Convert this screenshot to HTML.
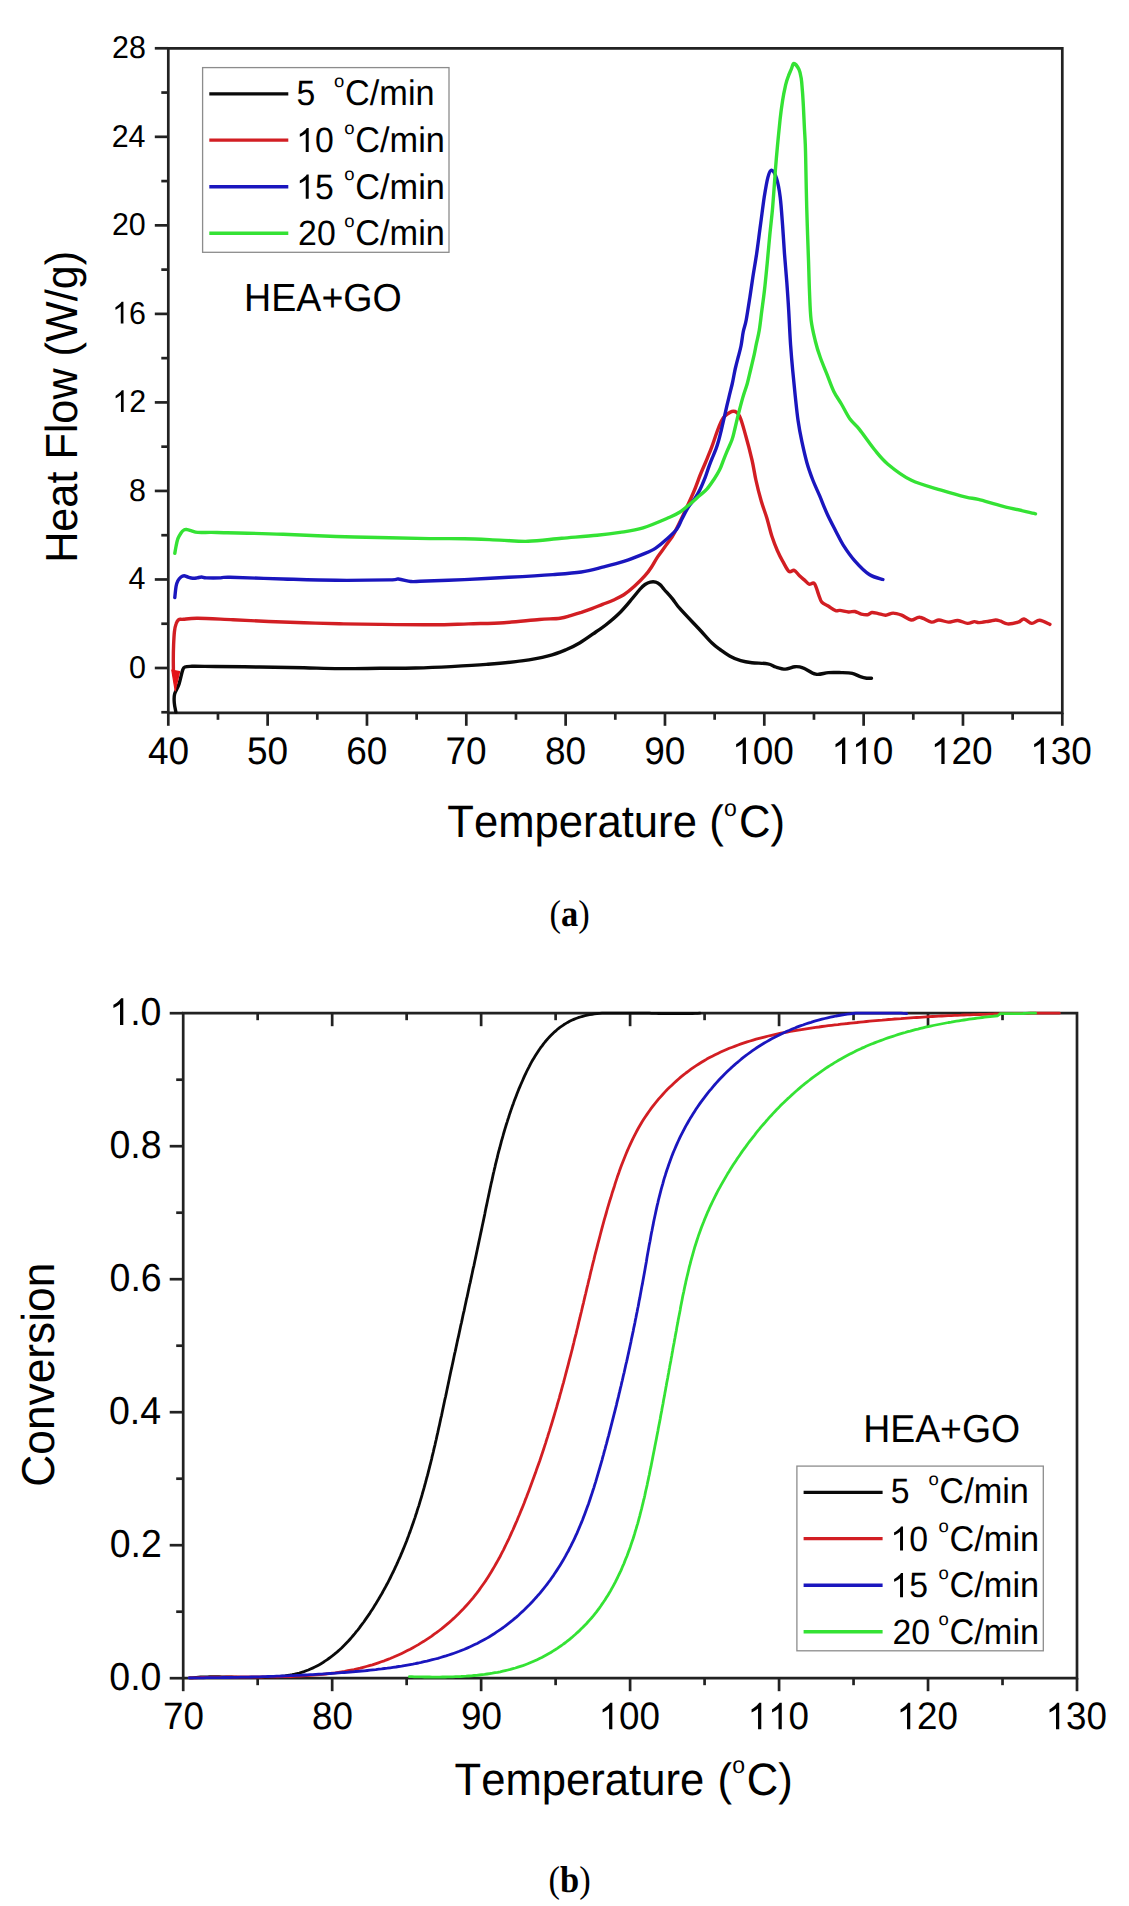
<!DOCTYPE html>
<html><head><meta charset="utf-8"><style>
html,body{margin:0;padding:0;background:#fff;overflow:hidden}
svg{display:block} text{text-rendering:geometricPrecision;font-kerning:none;font-feature-settings:"kern" 0}
</style></head><body>
<svg width="1129" height="1906" viewBox="0 0 1129 1906">
<rect width="1129" height="1906" fill="#fff"/>
<path d="M168.3,712.8 L168.3,48.3 L1062.3,48.3 L1062.3,712.8 Z" fill="none" stroke="#222222" stroke-width="2.7" stroke-linejoin="miter"/>
<line x1="161.30" y1="712.26" x2="168.30" y2="712.26" stroke="#222222" stroke-width="2.7" stroke-linecap="butt"/>
<line x1="154.80" y1="668.00" x2="168.30" y2="668.00" stroke="#222222" stroke-width="2.7" stroke-linecap="butt"/>
<line x1="161.30" y1="623.74" x2="168.30" y2="623.74" stroke="#222222" stroke-width="2.7" stroke-linecap="butt"/>
<line x1="154.80" y1="579.47" x2="168.30" y2="579.47" stroke="#222222" stroke-width="2.7" stroke-linecap="butt"/>
<line x1="161.30" y1="535.21" x2="168.30" y2="535.21" stroke="#222222" stroke-width="2.7" stroke-linecap="butt"/>
<line x1="154.80" y1="490.94" x2="168.30" y2="490.94" stroke="#222222" stroke-width="2.7" stroke-linecap="butt"/>
<line x1="161.30" y1="446.68" x2="168.30" y2="446.68" stroke="#222222" stroke-width="2.7" stroke-linecap="butt"/>
<line x1="154.80" y1="402.41" x2="168.30" y2="402.41" stroke="#222222" stroke-width="2.7" stroke-linecap="butt"/>
<line x1="161.30" y1="358.15" x2="168.30" y2="358.15" stroke="#222222" stroke-width="2.7" stroke-linecap="butt"/>
<line x1="154.80" y1="313.89" x2="168.30" y2="313.89" stroke="#222222" stroke-width="2.7" stroke-linecap="butt"/>
<line x1="161.30" y1="269.62" x2="168.30" y2="269.62" stroke="#222222" stroke-width="2.7" stroke-linecap="butt"/>
<line x1="154.80" y1="225.36" x2="168.30" y2="225.36" stroke="#222222" stroke-width="2.7" stroke-linecap="butt"/>
<line x1="161.30" y1="181.09" x2="168.30" y2="181.09" stroke="#222222" stroke-width="2.7" stroke-linecap="butt"/>
<line x1="154.80" y1="136.83" x2="168.30" y2="136.83" stroke="#222222" stroke-width="2.7" stroke-linecap="butt"/>
<line x1="161.30" y1="92.56" x2="168.30" y2="92.56" stroke="#222222" stroke-width="2.7" stroke-linecap="butt"/>
<line x1="154.80" y1="48.30" x2="168.30" y2="48.30" stroke="#222222" stroke-width="2.7" stroke-linecap="butt"/>
<line x1="168.30" y1="712.80" x2="168.30" y2="725.80" stroke="#222222" stroke-width="2.7" stroke-linecap="butt"/>
<line x1="217.97" y1="712.80" x2="217.97" y2="719.80" stroke="#222222" stroke-width="2.7" stroke-linecap="butt"/>
<line x1="267.63" y1="712.80" x2="267.63" y2="725.80" stroke="#222222" stroke-width="2.7" stroke-linecap="butt"/>
<line x1="317.30" y1="712.80" x2="317.30" y2="719.80" stroke="#222222" stroke-width="2.7" stroke-linecap="butt"/>
<line x1="366.97" y1="712.80" x2="366.97" y2="725.80" stroke="#222222" stroke-width="2.7" stroke-linecap="butt"/>
<line x1="416.63" y1="712.80" x2="416.63" y2="719.80" stroke="#222222" stroke-width="2.7" stroke-linecap="butt"/>
<line x1="466.30" y1="712.80" x2="466.30" y2="725.80" stroke="#222222" stroke-width="2.7" stroke-linecap="butt"/>
<line x1="515.97" y1="712.80" x2="515.97" y2="719.80" stroke="#222222" stroke-width="2.7" stroke-linecap="butt"/>
<line x1="565.63" y1="712.80" x2="565.63" y2="725.80" stroke="#222222" stroke-width="2.7" stroke-linecap="butt"/>
<line x1="615.30" y1="712.80" x2="615.30" y2="719.80" stroke="#222222" stroke-width="2.7" stroke-linecap="butt"/>
<line x1="664.97" y1="712.80" x2="664.97" y2="725.80" stroke="#222222" stroke-width="2.7" stroke-linecap="butt"/>
<line x1="714.63" y1="712.80" x2="714.63" y2="719.80" stroke="#222222" stroke-width="2.7" stroke-linecap="butt"/>
<line x1="764.30" y1="712.80" x2="764.30" y2="725.80" stroke="#222222" stroke-width="2.7" stroke-linecap="butt"/>
<line x1="813.97" y1="712.80" x2="813.97" y2="719.80" stroke="#222222" stroke-width="2.7" stroke-linecap="butt"/>
<line x1="863.63" y1="712.80" x2="863.63" y2="725.80" stroke="#222222" stroke-width="2.7" stroke-linecap="butt"/>
<line x1="913.30" y1="712.80" x2="913.30" y2="719.80" stroke="#222222" stroke-width="2.7" stroke-linecap="butt"/>
<line x1="962.97" y1="712.80" x2="962.97" y2="725.80" stroke="#222222" stroke-width="2.7" stroke-linecap="butt"/>
<line x1="1012.63" y1="712.80" x2="1012.63" y2="719.80" stroke="#222222" stroke-width="2.7" stroke-linecap="butt"/>
<line x1="1062.30" y1="712.80" x2="1062.30" y2="725.80" stroke="#222222" stroke-width="2.7" stroke-linecap="butt"/>
<text transform="translate(128.88,677.70) scale(1,1.04)" font-size="30.4" text-anchor="start" style="font-family:'Liberation Sans',sans-serif" font-weight="normal" fill="#000">0</text>
<text transform="translate(128.58,589.17) scale(1,1.04)" font-size="30.4" text-anchor="start" style="font-family:'Liberation Sans',sans-serif" font-weight="normal" fill="#000">4</text>
<text transform="translate(129.01,500.64) scale(1,1.04)" font-size="30.4" text-anchor="start" style="font-family:'Liberation Sans',sans-serif" font-weight="normal" fill="#000">8</text>
<g transform="translate(112.31,412.11) scale(1,1.04)"><path transform="translate(0.00,0) scale(0.01484,-0.01427)" d="M763,0 L583,0 L583,1147 C518,1085 312,964 223,931 L223,1105 C375,1176 599,1374 640,1466 L763,1466 Z" fill="#000"/><text x="16.91" y="0" font-size="30.4" style="font-family:'Liberation Sans',sans-serif" fill="#000">2</text></g>
<g transform="translate(112.12,323.59) scale(1,1.04)"><path transform="translate(0.00,0) scale(0.01484,-0.01427)" d="M763,0 L583,0 L583,1147 C518,1085 312,964 223,931 L223,1105 C375,1176 599,1374 640,1466 L763,1466 Z" fill="#000"/><text x="16.91" y="0" font-size="30.4" style="font-family:'Liberation Sans',sans-serif" fill="#000">6</text></g>
<text transform="translate(111.97,235.06) scale(1,1.04)" font-size="30.4" text-anchor="start" style="font-family:'Liberation Sans',sans-serif" font-weight="normal" fill="#000">20</text>
<text transform="translate(111.68,146.53) scale(1,1.04)" font-size="30.4" text-anchor="start" style="font-family:'Liberation Sans',sans-serif" font-weight="normal" fill="#000">24</text>
<text transform="translate(112.11,58.00) scale(1,1.04)" font-size="30.4" text-anchor="start" style="font-family:'Liberation Sans',sans-serif" font-weight="normal" fill="#000">28</text>
<text transform="translate(148.02,764.00) scale(1,1.04)" font-size="37" text-anchor="start" style="font-family:'Liberation Sans',sans-serif" font-weight="normal" fill="#000">40</text>
<text transform="translate(247.04,764.00) scale(1,1.04)" font-size="37" text-anchor="start" style="font-family:'Liberation Sans',sans-serif" font-weight="normal" fill="#000">50</text>
<text transform="translate(346.17,764.00) scale(1,1.04)" font-size="37" text-anchor="start" style="font-family:'Liberation Sans',sans-serif" font-weight="normal" fill="#000">60</text>
<text transform="translate(445.50,764.00) scale(1,1.04)" font-size="37" text-anchor="start" style="font-family:'Liberation Sans',sans-serif" font-weight="normal" fill="#000">70</text>
<text transform="translate(544.97,764.00) scale(1,1.04)" font-size="37" text-anchor="start" style="font-family:'Liberation Sans',sans-serif" font-weight="normal" fill="#000">80</text>
<text transform="translate(644.24,764.00) scale(1,1.04)" font-size="37" text-anchor="start" style="font-family:'Liberation Sans',sans-serif" font-weight="normal" fill="#000">90</text>
<g transform="translate(732.14,764.00) scale(1,1.04)"><path transform="translate(0.00,0) scale(0.01807,-0.01737)" d="M763,0 L583,0 L583,1147 C518,1085 312,964 223,931 L223,1105 C375,1176 599,1374 640,1466 L763,1466 Z" fill="#000"/><text x="20.58" y="0" font-size="37" style="font-family:'Liberation Sans',sans-serif" fill="#000">00</text></g>
<g transform="translate(831.48,764.00) scale(1,1.04)"><path transform="translate(0.00,0) scale(0.01807,-0.01737)" d="M763,0 L583,0 L583,1147 C518,1085 312,964 223,931 L223,1105 C375,1176 599,1374 640,1466 L763,1466 Z" fill="#000"/><path transform="translate(20.58,0) scale(0.01807,-0.01737)" d="M763,0 L583,0 L583,1147 C518,1085 312,964 223,931 L223,1105 C375,1176 599,1374 640,1466 L763,1466 Z" fill="#000"/><text x="41.16" y="0" font-size="37" style="font-family:'Liberation Sans',sans-serif" fill="#000">0</text></g>
<g transform="translate(930.81,764.00) scale(1,1.04)"><path transform="translate(0.00,0) scale(0.01807,-0.01737)" d="M763,0 L583,0 L583,1147 C518,1085 312,964 223,931 L223,1105 C375,1176 599,1374 640,1466 L763,1466 Z" fill="#000"/><text x="20.58" y="0" font-size="37" style="font-family:'Liberation Sans',sans-serif" fill="#000">20</text></g>
<g transform="translate(1030.14,764.00) scale(1,1.04)"><path transform="translate(0.00,0) scale(0.01807,-0.01737)" d="M763,0 L583,0 L583,1147 C518,1085 312,964 223,931 L223,1105 C375,1176 599,1374 640,1466 L763,1466 Z" fill="#000"/><text x="20.58" y="0" font-size="37" style="font-family:'Liberation Sans',sans-serif" fill="#000">30</text></g>
<text transform="translate(76.70,562.84) rotate(-90) scale(1,1.04)" font-size="43.2" text-anchor="start" style="font-family:'Liberation Sans',sans-serif" font-weight="normal" fill="#000">Heat Flow (W/g)</text>
<text transform="translate(447.32,837.10) scale(1,1.04)" font-size="43.6" text-anchor="start" style="font-family:'Liberation Sans',sans-serif" font-weight="normal" fill="#000">Temperature</text>
<text transform="translate(709.20,837.10) scale(1,1.04)" font-size="43.6" text-anchor="start" style="font-family:'Liberation Sans',sans-serif" font-weight="normal" fill="#000">(</text>
<text transform="translate(724.03,815.80) scale(1,1.04)" font-size="23" text-anchor="start" style="font-family:'Liberation Sans',sans-serif" font-weight="normal" fill="#000">o</text>
<text transform="translate(738.99,837.10) scale(1,1.04)" font-size="43.6" text-anchor="start" style="font-family:'Liberation Sans',sans-serif" font-weight="normal" fill="#000">C)</text>
<text transform="translate(244.12,311.20) scale(1,1.04)" font-size="37.6" text-anchor="start" style="font-family:'Liberation Sans',sans-serif" font-weight="normal" fill="#000">HEA+GO</text>
<rect x="202.6" y="67.6" width="246.4" height="184.7" fill="#fff" stroke="#8c8c8c" stroke-width="1.3"/>
<line x1="209.30" y1="93.90" x2="288.30" y2="93.90" stroke="#0a0a0a" stroke-width="3.4" stroke-linecap="butt"/>
<text transform="translate(296.55,104.80) scale(1,1.04)" font-size="33.8" text-anchor="start" style="font-family:'Liberation Sans',sans-serif" font-weight="normal" fill="#000">5</text>
<text transform="translate(334.12,86.50) scale(1,0.95)" font-size="18.5" text-anchor="start" style="font-family:'Liberation Sans',sans-serif" font-weight="normal" fill="#000">o</text>
<text transform="translate(345.06,104.80) scale(1,1.04)" font-size="34.3" text-anchor="start" style="font-family:'Liberation Sans',sans-serif" font-weight="normal" fill="#000">C/min</text>
<line x1="209.30" y1="140.10" x2="288.30" y2="140.10" stroke="#d21e23" stroke-width="3.4" stroke-linecap="butt"/>
<g transform="translate(296.12,152.10) scale(1,1.04)"><path transform="translate(0.00,0) scale(0.01650,-0.01587)" d="M763,0 L583,0 L583,1147 C518,1085 312,964 223,931 L223,1105 C375,1176 599,1374 640,1466 L763,1466 Z" fill="#000"/><text x="18.80" y="0" font-size="33.8" style="font-family:'Liberation Sans',sans-serif" fill="#000">0</text></g>
<text transform="translate(344.32,133.80) scale(1,0.95)" font-size="18.5" text-anchor="start" style="font-family:'Liberation Sans',sans-serif" font-weight="normal" fill="#000">o</text>
<text transform="translate(355.26,152.10) scale(1,1.04)" font-size="34.3" text-anchor="start" style="font-family:'Liberation Sans',sans-serif" font-weight="normal" fill="#000">C/min</text>
<line x1="209.30" y1="186.70" x2="288.30" y2="186.70" stroke="#1a16be" stroke-width="3.4" stroke-linecap="butt"/>
<g transform="translate(296.12,198.70) scale(1,1.04)"><path transform="translate(0.00,0) scale(0.01650,-0.01587)" d="M763,0 L583,0 L583,1147 C518,1085 312,964 223,931 L223,1105 C375,1176 599,1374 640,1466 L763,1466 Z" fill="#000"/><text x="18.80" y="0" font-size="33.8" style="font-family:'Liberation Sans',sans-serif" fill="#000">5</text></g>
<text transform="translate(344.32,180.40) scale(1,0.95)" font-size="18.5" text-anchor="start" style="font-family:'Liberation Sans',sans-serif" font-weight="normal" fill="#000">o</text>
<text transform="translate(355.26,198.70) scale(1,1.04)" font-size="34.3" text-anchor="start" style="font-family:'Liberation Sans',sans-serif" font-weight="normal" fill="#000">C/min</text>
<line x1="209.30" y1="233.20" x2="288.30" y2="233.20" stroke="#34e234" stroke-width="3.4" stroke-linecap="butt"/>
<text transform="translate(298.10,245.20) scale(1,1.04)" font-size="33.8" text-anchor="start" style="font-family:'Liberation Sans',sans-serif" font-weight="normal" fill="#000">20</text>
<text transform="translate(344.32,226.90) scale(1,0.95)" font-size="18.5" text-anchor="start" style="font-family:'Liberation Sans',sans-serif" font-weight="normal" fill="#000">o</text>
<text transform="translate(355.26,245.20) scale(1,1.04)" font-size="34.3" text-anchor="start" style="font-family:'Liberation Sans',sans-serif" font-weight="normal" fill="#000">C/min</text>
<path d="M175.9,712.0 C175.6,710.5 174.5,706.0 174.3,703.0 C174.1,700.0 173.8,697.2 174.6,694.1 C175.4,691.0 177.6,688.3 178.9,684.4 C180.2,680.5 181.5,673.5 182.5,670.6 C183.5,667.7 183.3,667.7 184.9,667.0 C186.5,666.3 186.9,666.4 192.0,666.3 C197.1,666.2 204.1,666.4 215.4,666.5 C226.7,666.6 244.9,666.8 259.7,667.0 C274.5,667.2 290.7,667.5 304.0,667.8 C317.3,668.1 326.7,668.5 339.4,668.6 C352.1,668.7 367.3,668.4 380.0,668.3 C392.7,668.2 403.6,668.3 415.4,668.0 C427.2,667.7 439.1,667.2 450.9,666.6 C462.7,666.0 474.5,665.4 486.3,664.4 C498.1,663.4 511.4,662.3 521.7,660.9 C532.0,659.5 540.9,657.8 548.3,655.9 C555.7,654.0 560.7,651.9 566.0,649.7 C571.3,647.5 575.0,645.7 580.0,642.7 C585.0,639.8 591.5,635.0 595.8,632.0 C600.1,629.0 601.9,628.0 605.7,625.0 C609.5,622.0 614.6,617.8 618.5,614.0 C622.4,610.2 625.6,606.4 629.1,602.3 C632.6,598.2 637.1,592.5 639.7,589.5 C642.4,586.5 643.2,585.7 645.0,584.5 C646.8,583.3 648.5,582.5 650.3,582.1 C652.1,581.7 654.1,581.7 655.7,582.1 C657.3,582.5 658.6,583.4 660.0,584.6 C661.4,585.8 662.1,587.1 664.2,589.5 C666.3,591.9 670.1,595.9 672.7,599.1 C675.3,602.3 675.5,603.6 680.0,608.7 C684.5,613.9 694.7,624.3 700.0,630.0 C705.3,635.7 708.7,639.8 712.0,643.0 C715.3,646.2 717.1,647.4 720.0,649.5 C722.9,651.6 726.1,654.0 729.6,655.9 C733.1,657.8 737.0,659.6 740.7,660.7 C744.4,661.8 747.4,662.2 751.9,662.7 C756.4,663.2 763.8,663.1 767.8,663.8 C771.8,664.5 772.9,666.1 775.8,667.0 C778.7,667.9 782.2,669.1 785.4,669.1 C788.6,669.1 792.0,666.9 794.9,666.7 C797.8,666.5 799.4,666.5 802.9,667.8 C806.4,669.0 811.5,673.4 815.7,674.2 C820.0,675.0 824.1,672.9 828.4,672.6 C832.6,672.3 837.2,672.5 841.2,672.6 C845.2,672.7 849.1,672.7 852.3,673.4 C855.5,674.1 857.9,675.8 860.3,676.6 C862.7,677.4 864.8,677.9 866.7,678.2 C868.6,678.5 870.7,678.2 871.5,678.2" fill="none" stroke="#0a0a0a" stroke-width="3.4" stroke-linejoin="round" stroke-linecap="round"/>
<path d="M173.4,670.0 C173.4,668.3 173.3,664.2 173.3,660.0 C173.3,655.8 173.4,649.7 173.6,645.0 C173.8,640.3 174.0,635.6 174.4,632.0 C174.8,628.4 175.4,625.6 176.2,623.5 C176.9,621.4 177.8,620.2 178.9,619.5 C180.1,618.8 180.0,619.5 183.1,619.3 C186.2,619.1 189.4,618.1 197.7,618.2 C206.0,618.3 221.3,619.2 233.1,619.7 C244.9,620.2 256.8,621.0 268.6,621.5 C280.4,622.0 292.2,622.4 304.0,622.8 C315.8,623.2 326.7,623.5 339.4,623.8 C352.1,624.1 364.4,624.2 380.0,624.4 C395.6,624.6 418.3,624.9 433.1,624.8 C447.9,624.7 456.8,624.2 468.6,623.9 C480.4,623.5 492.2,623.4 504.0,622.7 C515.8,622.0 530.1,620.2 539.4,619.5 C548.7,618.8 554.8,618.9 560.0,618.2 C565.2,617.6 567.1,616.6 570.6,615.6 C574.1,614.6 577.8,613.5 581.3,612.4 C584.8,611.2 588.4,610.0 591.9,608.7 C595.4,607.4 599.0,605.8 602.5,604.4 C606.0,603.0 609.6,601.8 613.1,600.2 C616.6,598.6 620.2,597.1 623.8,594.8 C627.3,592.5 630.9,589.5 634.4,586.3 C637.9,583.1 642.2,578.9 645.0,575.7 C647.8,572.5 649.3,570.4 651.4,567.2 C653.5,564.0 655.3,560.3 657.8,556.6 C660.3,552.9 663.5,549.0 666.3,544.9 C669.1,540.8 670.4,540.5 674.8,532.1 C679.2,523.7 688.5,503.7 692.7,494.3 C696.9,484.9 697.9,480.7 700.0,475.5 C702.1,470.3 703.8,466.6 705.3,463.0 C706.8,459.4 707.8,456.8 708.9,454.2 C710.0,451.6 710.8,449.5 711.7,447.1 C712.6,444.7 713.3,442.7 714.2,440.0 C715.1,437.3 716.2,434.0 717.3,431.0 C718.4,428.0 719.8,424.5 721.0,422.0 C722.2,419.5 722.6,418.0 724.7,416.2 C726.8,414.4 730.9,411.2 733.4,411.2 C735.9,411.2 737.5,412.1 739.6,416.2 C741.7,420.3 743.7,428.7 745.8,436.0 C747.9,443.3 750.3,452.7 752.0,460.0 C753.7,467.3 754.4,473.1 755.9,480.0 C757.4,486.9 759.5,495.1 761.3,501.3 C763.1,507.5 764.8,511.4 766.6,517.2 C768.4,523.0 770.1,530.8 771.9,536.3 C773.7,541.8 775.4,546.1 777.2,550.2 C779.0,554.3 780.5,557.3 782.5,560.8 C784.5,564.3 786.9,569.8 788.9,571.4 C790.9,573.0 792.4,569.6 794.2,570.3 C796.0,571.0 797.7,574.0 799.5,575.7 C801.3,577.4 803.2,579.0 804.8,580.4 C806.4,581.8 807.5,583.7 809.1,584.2 C810.7,584.7 812.8,581.8 814.4,583.6 C816.0,585.4 817.5,591.7 818.7,594.8 C819.9,597.9 820.2,600.3 821.8,602.2 C823.4,604.1 825.9,604.6 828.2,606.0 C830.5,607.4 833.7,610.0 835.7,610.7 C837.7,611.4 837.9,610.2 840.0,610.4 C842.1,610.6 846.0,611.8 848.5,612.0 C851.0,612.2 852.8,611.1 854.9,611.5 C857.0,611.9 859.2,613.6 861.3,614.1 C863.4,614.6 865.8,615.0 867.6,614.7 C869.4,614.4 870.1,612.7 871.9,612.5 C873.7,612.3 876.0,613.1 878.3,613.6 C880.6,614.1 883.2,615.3 885.7,615.2 C888.2,615.1 890.5,613.1 893.1,613.1 C895.8,613.1 898.6,614.1 901.6,615.2 C904.6,616.4 908.2,619.6 911.2,620.0 C914.2,620.4 916.3,616.9 919.7,617.3 C923.1,617.6 928.2,621.6 931.4,622.1 C934.6,622.6 936.1,620.0 938.9,620.0 C941.7,620.0 945.2,622.0 948.4,622.1 C951.5,622.2 954.6,620.3 957.8,620.5 C961.0,620.7 964.7,623.2 967.5,623.4 C970.3,623.6 972.4,621.7 974.4,621.6 C976.4,621.5 976.8,622.7 979.2,622.6 C981.6,622.5 986.2,621.6 989.0,621.2 C991.8,620.8 993.8,620.0 995.8,620.0 C997.8,620.0 998.8,620.6 1000.7,621.2 C1002.7,621.9 1004.6,623.7 1007.5,623.9 C1010.4,624.1 1015.5,623.0 1018.2,622.2 C1021.0,621.4 1021.7,618.8 1024.0,619.0 C1026.3,619.2 1029.2,623.2 1031.8,623.4 C1034.4,623.6 1036.6,620.1 1039.6,620.3 C1042.6,620.5 1048.2,623.7 1049.9,624.4" fill="none" stroke="#d21e23" stroke-width="3.4" stroke-linejoin="round" stroke-linecap="round"/>
<path d="M171.8,670.2 L179.6,671.6 L175.2,690.8 Z" fill="#e41418" stroke="#e41418" stroke-width="1.2" stroke-linejoin="round"/>
<path d="M174.8,597.5 C175.0,595.6 175.6,589.1 176.1,586.3 C176.6,583.5 177.1,582.2 177.9,580.7 C178.7,579.2 180.0,577.8 181.0,577.0 C182.0,576.2 183.0,575.8 184.1,575.8 C185.2,575.8 186.4,576.6 187.8,577.0 C189.2,577.4 191.2,578.1 192.8,578.2 C194.4,578.4 195.7,578.1 197.1,577.9 C198.5,577.7 199.9,577.0 201.5,577.0 C203.1,577.0 203.2,577.8 206.4,577.9 C209.6,578.0 216.8,578.0 220.7,577.9 C224.6,577.8 219.6,577.1 230.0,577.3 C240.4,577.5 265.4,578.5 283.1,579.0 C300.8,579.5 318.6,580.1 336.3,580.3 C354.0,580.4 379.1,580.1 389.4,579.9 C399.7,579.7 394.8,578.7 398.3,579.0 C401.9,579.3 407.1,581.1 410.7,581.5 C414.3,581.9 411.1,581.6 420.0,581.3 C428.9,581.0 449.5,580.3 464.3,579.6 C479.1,578.9 493.8,578.1 508.6,577.3 C523.4,576.5 540.8,575.5 552.9,574.6 C565.0,573.7 573.0,573.2 581.3,572.0 C589.6,570.8 595.4,569.0 602.5,567.2 C609.6,565.4 616.7,563.7 623.8,561.4 C630.9,559.1 639.7,555.6 645.0,553.4 C650.3,551.2 652.2,550.4 655.7,548.1 C659.2,545.8 662.8,542.8 666.3,539.6 C669.8,536.4 674.3,532.5 676.9,529.0 C679.5,525.5 680.2,522.3 682.1,518.8 C684.0,515.2 685.9,511.1 688.0,507.7 C690.1,504.3 692.9,501.5 694.9,498.5 C696.9,495.5 698.3,493.2 700.0,489.6 C701.7,486.1 703.8,481.0 705.3,477.2 C706.8,473.4 707.7,469.9 708.9,466.6 C710.1,463.4 711.2,460.6 712.4,457.7 C713.6,454.8 714.9,451.8 716.0,448.9 C717.1,445.9 717.9,443.1 718.8,440.0 C719.7,436.9 720.2,434.6 721.3,430.0 C722.4,425.4 724.1,417.7 725.4,412.3 C726.6,406.9 727.6,402.7 728.8,397.9 C729.9,393.1 731.2,388.3 732.3,383.5 C733.4,378.7 734.2,373.3 735.2,369.0 C736.2,364.7 737.1,361.3 738.1,357.5 C739.1,353.7 740.1,350.3 741.0,346.0 C741.9,341.7 742.4,335.8 743.3,331.5 C744.2,327.2 745.1,325.9 746.2,320.0 C747.3,314.1 748.9,303.5 750.0,296.4 C751.1,289.3 751.7,284.6 752.8,277.5 C753.9,270.4 755.3,262.6 756.6,253.9 C757.9,245.2 759.1,234.9 760.4,225.5 C761.7,216.1 763.0,205.2 764.2,197.2 C765.5,189.2 766.7,181.9 767.9,177.4 C769.1,172.9 770.1,170.2 771.5,170.3 C772.9,170.5 775.0,173.8 776.5,178.3 C778.0,182.8 779.2,189.3 780.2,197.2 C781.2,205.1 781.9,216.1 782.6,225.5 C783.3,234.9 783.8,244.5 784.5,253.9 C785.2,263.4 786.1,272.8 786.8,282.2 C787.5,291.6 788.1,300.0 788.7,310.5 C789.3,321.0 789.9,335.2 790.6,345.2 C791.3,355.2 791.9,362.0 792.7,370.4 C793.5,378.8 794.3,387.2 795.2,395.6 C796.1,404.0 797.0,413.1 798.1,420.8 C799.2,428.5 800.4,434.7 801.9,441.7 C803.4,448.7 805.1,456.3 806.9,462.7 C808.7,469.1 810.7,474.5 812.8,480.0 C814.9,485.5 817.3,490.2 819.7,495.9 C822.1,501.6 824.5,508.1 827.2,514.0 C829.9,519.9 833.1,525.9 835.7,531.0 C838.4,536.1 839.9,539.8 843.1,544.8 C846.3,549.8 850.4,555.8 854.8,560.8 C859.2,565.8 864.6,571.4 869.3,574.5 C874.0,577.6 880.6,578.7 882.9,579.5" fill="none" stroke="#1a16be" stroke-width="3.4" stroke-linejoin="round" stroke-linecap="round"/>
<path d="M174.8,553.4 C175.0,552.2 175.6,548.5 176.1,546.0 C176.6,543.5 177.1,540.8 177.9,538.6 C178.7,536.4 180.0,534.5 181.0,533.0 C182.0,531.5 183.1,530.5 184.1,529.9 C185.1,529.3 185.9,529.5 187.2,529.6 C188.4,529.8 189.8,530.3 191.6,530.8 C193.4,531.3 194.5,532.1 197.8,532.4 C201.1,532.7 207.1,532.3 211.4,532.4 C215.7,532.5 219.4,532.6 223.8,532.7 C228.2,532.8 228.1,532.8 238.0,533.0 C247.9,533.2 266.7,533.6 283.1,534.2 C299.5,534.8 318.6,535.9 336.3,536.5 C354.0,537.1 373.8,537.4 389.4,537.8 C405.0,538.1 417.5,538.4 430.0,538.6 C442.5,538.8 452.7,538.5 464.3,538.8 C475.9,539.0 489.1,539.7 499.7,540.1 C510.3,540.5 517.8,541.6 528.1,541.3 C538.4,541.0 550.2,539.3 561.7,538.3 C573.2,537.3 587.4,536.3 597.1,535.3 C606.8,534.3 612.3,533.6 620.0,532.4 C627.7,531.2 634.8,530.4 643.1,527.9 C651.4,525.4 663.6,519.9 669.7,517.3 C675.9,514.6 676.6,514.2 680.0,512.0 C683.4,509.8 686.7,506.8 690.0,504.0 C693.3,501.2 697.1,497.8 700.0,495.3 C702.9,492.8 704.7,491.6 707.1,488.9 C709.5,486.2 712.1,482.1 714.2,479.0 C716.3,475.9 718.0,473.1 719.5,470.1 C721.0,467.2 721.8,464.4 723.0,461.3 C724.2,458.2 725.5,454.9 727.0,451.3 C728.5,447.8 730.6,443.6 731.9,440.0 C733.2,436.4 733.6,434.1 734.6,430.0 C735.6,425.9 736.8,420.6 738.1,415.2 C739.5,409.8 741.2,403.2 742.7,397.9 C744.2,392.6 745.9,388.3 747.3,383.5 C748.6,378.7 749.6,373.8 750.8,369.0 C751.9,364.2 753.2,358.9 754.2,354.6 C755.2,350.3 755.6,347.2 756.5,343.1 C757.4,339.0 758.4,335.5 759.3,330.0 C760.2,324.5 761.0,316.7 761.9,310.0 C762.8,303.3 763.6,297.8 764.5,290.0 C765.4,282.2 766.3,272.5 767.2,263.3 C768.1,254.1 768.9,244.4 769.8,235.0 C770.7,225.6 771.8,217.5 772.7,206.7 C773.6,195.9 774.6,180.4 775.4,170.0 C776.2,159.6 776.8,152.9 777.6,144.5 C778.4,136.1 779.3,126.6 780.1,119.3 C780.9,112.0 781.7,106.2 782.6,100.4 C783.5,94.6 784.8,88.6 785.7,84.6 C786.7,80.6 787.3,79.0 788.3,76.4 C789.2,73.8 790.5,71.1 791.4,68.9 C792.3,66.8 792.6,63.4 793.9,63.5 C795.2,63.6 797.8,67.0 799.0,69.5 C800.2,72.0 800.6,74.7 801.2,78.3 C801.8,81.9 802.0,86.2 802.4,90.9 C802.8,95.6 803.1,100.9 803.4,106.7 C803.7,112.5 804.0,119.3 804.3,125.6 C804.6,131.9 805.0,137.1 805.3,144.5 C805.6,151.9 805.7,159.6 805.9,170.0 C806.1,180.4 806.4,195.9 806.7,206.7 C807.0,217.5 807.3,225.6 807.6,235.0 C807.9,244.4 808.3,253.9 808.6,263.3 C808.9,272.8 809.1,282.2 809.5,291.7 C809.9,301.1 810.1,311.8 811.1,320.0 C812.1,328.2 813.8,334.7 815.3,341.0 C816.8,347.3 818.4,352.2 820.4,357.8 C822.4,363.4 824.9,369.0 827.1,374.6 C829.3,380.2 831.4,386.5 833.8,391.4 C836.2,396.3 838.7,399.4 841.4,404.0 C844.1,408.6 847.0,414.9 850.0,419.1 C853.0,423.3 855.4,424.4 859.4,429.4 C863.4,434.4 869.5,443.5 874.2,449.3 C879.0,455.1 881.7,459.0 887.9,464.2 C894.1,469.4 902.5,476.0 911.4,480.3 C920.3,484.6 932.1,487.4 941.2,490.2 C950.3,493.0 959.8,495.7 966.0,497.2 C972.2,498.7 972.2,497.9 978.4,499.4 C984.6,500.9 993.7,503.9 1003.2,506.3 C1012.7,508.7 1030.1,512.5 1035.5,513.8" fill="none" stroke="#34e234" stroke-width="3.4" stroke-linejoin="round" stroke-linecap="round"/>
<text transform="translate(569.50,925.60) scale(1,1.085)" font-size="34.5" text-anchor="middle" style="font-family:'Liberation Serif',serif" font-weight="normal" fill="#000">(<tspan font-weight="bold">a</tspan>)</text>
<path d="M183.2,1678.2 L183.2,1013.2 L1077.0,1013.2 L1077.0,1678.2 Z" fill="none" stroke="#222222" stroke-width="2.7" stroke-linejoin="miter"/>
<line x1="169.70" y1="1678.20" x2="183.20" y2="1678.20" stroke="#222222" stroke-width="2.7" stroke-linecap="butt"/>
<line x1="176.20" y1="1611.70" x2="183.20" y2="1611.70" stroke="#222222" stroke-width="2.7" stroke-linecap="butt"/>
<line x1="169.70" y1="1545.20" x2="183.20" y2="1545.20" stroke="#222222" stroke-width="2.7" stroke-linecap="butt"/>
<line x1="176.20" y1="1478.70" x2="183.20" y2="1478.70" stroke="#222222" stroke-width="2.7" stroke-linecap="butt"/>
<line x1="169.70" y1="1412.20" x2="183.20" y2="1412.20" stroke="#222222" stroke-width="2.7" stroke-linecap="butt"/>
<line x1="176.20" y1="1345.70" x2="183.20" y2="1345.70" stroke="#222222" stroke-width="2.7" stroke-linecap="butt"/>
<line x1="169.70" y1="1279.20" x2="183.20" y2="1279.20" stroke="#222222" stroke-width="2.7" stroke-linecap="butt"/>
<line x1="176.20" y1="1212.70" x2="183.20" y2="1212.70" stroke="#222222" stroke-width="2.7" stroke-linecap="butt"/>
<line x1="169.70" y1="1146.20" x2="183.20" y2="1146.20" stroke="#222222" stroke-width="2.7" stroke-linecap="butt"/>
<line x1="176.20" y1="1079.70" x2="183.20" y2="1079.70" stroke="#222222" stroke-width="2.7" stroke-linecap="butt"/>
<line x1="169.70" y1="1013.20" x2="183.20" y2="1013.20" stroke="#222222" stroke-width="2.7" stroke-linecap="butt"/>
<line x1="183.20" y1="1678.20" x2="183.20" y2="1691.20" stroke="#222222" stroke-width="2.7" stroke-linecap="butt"/>
<line x1="257.68" y1="1678.20" x2="257.68" y2="1685.20" stroke="#222222" stroke-width="2.7" stroke-linecap="butt"/>
<line x1="257.68" y1="1013.20" x2="257.68" y2="1020.20" stroke="#222222" stroke-width="2.7" stroke-linecap="butt"/>
<line x1="332.17" y1="1678.20" x2="332.17" y2="1691.20" stroke="#222222" stroke-width="2.7" stroke-linecap="butt"/>
<line x1="332.17" y1="1013.20" x2="332.17" y2="1026.20" stroke="#222222" stroke-width="2.7" stroke-linecap="butt"/>
<line x1="406.65" y1="1678.20" x2="406.65" y2="1685.20" stroke="#222222" stroke-width="2.7" stroke-linecap="butt"/>
<line x1="406.65" y1="1013.20" x2="406.65" y2="1020.20" stroke="#222222" stroke-width="2.7" stroke-linecap="butt"/>
<line x1="481.13" y1="1678.20" x2="481.13" y2="1691.20" stroke="#222222" stroke-width="2.7" stroke-linecap="butt"/>
<line x1="481.13" y1="1013.20" x2="481.13" y2="1026.20" stroke="#222222" stroke-width="2.7" stroke-linecap="butt"/>
<line x1="555.62" y1="1678.20" x2="555.62" y2="1685.20" stroke="#222222" stroke-width="2.7" stroke-linecap="butt"/>
<line x1="555.62" y1="1013.20" x2="555.62" y2="1020.20" stroke="#222222" stroke-width="2.7" stroke-linecap="butt"/>
<line x1="630.10" y1="1678.20" x2="630.10" y2="1691.20" stroke="#222222" stroke-width="2.7" stroke-linecap="butt"/>
<line x1="630.10" y1="1013.20" x2="630.10" y2="1026.20" stroke="#222222" stroke-width="2.7" stroke-linecap="butt"/>
<line x1="704.58" y1="1678.20" x2="704.58" y2="1685.20" stroke="#222222" stroke-width="2.7" stroke-linecap="butt"/>
<line x1="704.58" y1="1013.20" x2="704.58" y2="1020.20" stroke="#222222" stroke-width="2.7" stroke-linecap="butt"/>
<line x1="779.07" y1="1678.20" x2="779.07" y2="1691.20" stroke="#222222" stroke-width="2.7" stroke-linecap="butt"/>
<line x1="779.07" y1="1013.20" x2="779.07" y2="1026.20" stroke="#222222" stroke-width="2.7" stroke-linecap="butt"/>
<line x1="853.55" y1="1678.20" x2="853.55" y2="1685.20" stroke="#222222" stroke-width="2.7" stroke-linecap="butt"/>
<line x1="853.55" y1="1013.20" x2="853.55" y2="1020.20" stroke="#222222" stroke-width="2.7" stroke-linecap="butt"/>
<line x1="928.03" y1="1678.20" x2="928.03" y2="1691.20" stroke="#222222" stroke-width="2.7" stroke-linecap="butt"/>
<line x1="928.03" y1="1013.20" x2="928.03" y2="1026.20" stroke="#222222" stroke-width="2.7" stroke-linecap="butt"/>
<line x1="1002.52" y1="1678.20" x2="1002.52" y2="1685.20" stroke="#222222" stroke-width="2.7" stroke-linecap="butt"/>
<line x1="1002.52" y1="1013.20" x2="1002.52" y2="1020.20" stroke="#222222" stroke-width="2.7" stroke-linecap="butt"/>
<line x1="1077.00" y1="1678.20" x2="1077.00" y2="1691.20" stroke="#222222" stroke-width="2.7" stroke-linecap="butt"/>
<text transform="translate(109.33,1690.00) scale(1,1.04)" font-size="37.5" text-anchor="start" style="font-family:'Liberation Sans',sans-serif" font-weight="normal" fill="#000">0.0</text>
<text transform="translate(109.76,1557.00) scale(1,1.04)" font-size="37.5" text-anchor="start" style="font-family:'Liberation Sans',sans-serif" font-weight="normal" fill="#000">0.2</text>
<text transform="translate(108.97,1424.00) scale(1,1.04)" font-size="37.5" text-anchor="start" style="font-family:'Liberation Sans',sans-serif" font-weight="normal" fill="#000">0.4</text>
<text transform="translate(109.52,1291.00) scale(1,1.04)" font-size="37.5" text-anchor="start" style="font-family:'Liberation Sans',sans-serif" font-weight="normal" fill="#000">0.6</text>
<text transform="translate(109.50,1158.00) scale(1,1.04)" font-size="37.5" text-anchor="start" style="font-family:'Liberation Sans',sans-serif" font-weight="normal" fill="#000">0.8</text>
<g transform="translate(109.33,1025.00) scale(1,1.04)"><path transform="translate(0.00,0) scale(0.01831,-0.01761)" d="M763,0 L583,0 L583,1147 C518,1085 312,964 223,931 L223,1105 C375,1176 599,1374 640,1466 L763,1466 Z" fill="#000"/><text x="20.86" y="0" font-size="37.5" style="font-family:'Liberation Sans',sans-serif" fill="#000">.0</text></g>
<text transform="translate(163.01,1729.20) scale(1,1.04)" font-size="36.8" text-anchor="start" style="font-family:'Liberation Sans',sans-serif" font-weight="normal" fill="#000">70</text>
<text transform="translate(312.12,1729.20) scale(1,1.04)" font-size="36.8" text-anchor="start" style="font-family:'Liberation Sans',sans-serif" font-weight="normal" fill="#000">80</text>
<text transform="translate(461.02,1729.20) scale(1,1.04)" font-size="36.8" text-anchor="start" style="font-family:'Liberation Sans',sans-serif" font-weight="normal" fill="#000">90</text>
<g transform="translate(598.62,1729.20) scale(1,1.04)"><path transform="translate(0.00,0) scale(0.01797,-0.01728)" d="M763,0 L583,0 L583,1147 C518,1085 312,964 223,931 L223,1105 C375,1176 599,1374 640,1466 L763,1466 Z" fill="#000"/><text x="20.47" y="0" font-size="36.8" style="font-family:'Liberation Sans',sans-serif" fill="#000">00</text></g>
<g transform="translate(747.58,1729.20) scale(1,1.04)"><path transform="translate(0.00,0) scale(0.01797,-0.01728)" d="M763,0 L583,0 L583,1147 C518,1085 312,964 223,931 L223,1105 C375,1176 599,1374 640,1466 L763,1466 Z" fill="#000"/><path transform="translate(20.47,0) scale(0.01797,-0.01728)" d="M763,0 L583,0 L583,1147 C518,1085 312,964 223,931 L223,1105 C375,1176 599,1374 640,1466 L763,1466 Z" fill="#000"/><text x="40.93" y="0" font-size="36.8" style="font-family:'Liberation Sans',sans-serif" fill="#000">0</text></g>
<g transform="translate(896.55,1729.20) scale(1,1.04)"><path transform="translate(0.00,0) scale(0.01797,-0.01728)" d="M763,0 L583,0 L583,1147 C518,1085 312,964 223,931 L223,1105 C375,1176 599,1374 640,1466 L763,1466 Z" fill="#000"/><text x="20.47" y="0" font-size="36.8" style="font-family:'Liberation Sans',sans-serif" fill="#000">20</text></g>
<g transform="translate(1045.52,1729.20) scale(1,1.04)"><path transform="translate(0.00,0) scale(0.01797,-0.01728)" d="M763,0 L583,0 L583,1147 C518,1085 312,964 223,931 L223,1105 C375,1176 599,1374 640,1466 L763,1466 Z" fill="#000"/><text x="20.47" y="0" font-size="36.8" style="font-family:'Liberation Sans',sans-serif" fill="#000">30</text></g>
<text transform="translate(54.30,1486.75) rotate(-90) scale(1,1.04)" font-size="44.3" text-anchor="start" style="font-family:'Liberation Sans',sans-serif" font-weight="normal" fill="#000">Conversion</text>
<text transform="translate(454.62,1795.00) scale(1,1.04)" font-size="43.6" text-anchor="start" style="font-family:'Liberation Sans',sans-serif" font-weight="normal" fill="#000">Temperature</text>
<text transform="translate(717.50,1795.00) scale(1,1.04)" font-size="43.6" text-anchor="start" style="font-family:'Liberation Sans',sans-serif" font-weight="normal" fill="#000">(</text>
<text transform="translate(732.33,1773.20) scale(1,1.04)" font-size="23" text-anchor="start" style="font-family:'Liberation Sans',sans-serif" font-weight="normal" fill="#000">o</text>
<text transform="translate(746.79,1795.00) scale(1,1.04)" font-size="43.6" text-anchor="start" style="font-family:'Liberation Sans',sans-serif" font-weight="normal" fill="#000">C)</text>
<text transform="translate(863.23,1441.50) scale(1,1.04)" font-size="37.4" text-anchor="start" style="font-family:'Liberation Sans',sans-serif" font-weight="normal" fill="#000">HEA+GO</text>
<path d="M189.9,1677.9 L192.0,1677.9 L194.1,1677.6 L196.2,1677.4 L198.4,1677.2 L200.6,1677.0 L202.9,1676.9 L205.1,1676.8 L207.4,1676.8 L209.8,1676.7 L212.1,1676.7 L214.5,1676.7 L216.9,1676.7 L219.3,1676.7 L221.8,1676.8 L224.2,1676.8 L226.7,1676.9 L229.2,1677.0 L231.7,1677.0 L234.2,1677.1 L236.8,1677.2 L239.3,1677.3 L241.9,1677.4 L244.4,1677.4 L247.0,1677.5 L249.5,1677.5 L252.1,1677.6 L254.7,1677.6 L257.2,1677.6 L259.8,1677.6 L262.4,1677.5 L264.9,1677.5 L267.5,1677.4 L270.0,1677.3 L272.5,1677.1 L275.1,1677.0 L277.6,1676.8 L280.0,1676.5 L282.5,1676.2 L285.0,1675.9 L287.4,1675.5 L289.8,1675.1 L292.2,1674.7 L294.6,1674.2 L297.0,1673.6 L299.3,1673.0 L301.6,1672.3 L303.9,1671.6 L306.1,1670.8 L308.3,1670.0 L310.5,1669.0 L312.6,1668.1 L314.8,1667.1 L316.9,1666.0 L318.9,1664.9 L321.0,1663.7 L323.0,1662.5 L324.9,1661.2 L326.9,1659.9 L328.8,1658.5 L330.7,1657.1 L332.6,1655.7 L334.5,1654.2 L336.3,1652.7 L338.1,1651.1 L339.9,1649.5 L341.6,1647.9 L343.3,1646.2 L345.0,1644.5 L346.7,1642.7 L348.4,1641.0 L350.0,1639.2 L351.6,1637.4 L353.2,1635.5 L354.8,1633.6 L356.3,1631.7 L357.9,1629.8 L359.4,1627.9 L360.8,1625.9 L362.3,1623.9 L363.8,1622.0 L365.2,1619.9 L366.6,1617.9 L368.0,1615.9 L369.4,1613.9 L370.7,1611.8 L372.1,1609.7 L373.4,1607.7 L374.7,1605.6 L376.0,1603.5 L377.2,1601.4 L378.5,1599.3 L379.7,1597.2 L381.0,1595.1 L382.2,1593.0 L383.3,1590.9 L384.5,1588.8 L385.7,1586.6 L386.8,1584.5 L388.0,1582.3 L389.1,1580.2 L390.2,1578.0 L391.2,1575.9 L392.3,1573.7 L393.4,1571.5 L394.4,1569.3 L395.4,1567.1 L396.5,1564.9 L397.5,1562.7 L398.4,1560.5 L399.4,1558.3 L400.4,1556.1 L401.3,1553.9 L402.3,1551.6 L403.2,1549.4 L404.1,1547.2 L405.0,1544.9 L405.9,1542.7 L406.8,1540.4 L407.6,1538.2 L408.5,1535.9 L409.3,1533.6 L410.2,1531.4 L411.0,1529.1 L411.8,1526.8 L412.6,1524.5 L413.4,1522.2 L414.2,1519.9 L415.0,1517.6 L415.7,1515.3 L416.5,1513.0 L417.2,1510.7 L417.9,1508.4 L418.7,1506.1 L419.4,1503.8 L420.1,1501.4 L420.8,1499.1 L421.5,1496.8 L422.2,1494.4 L422.8,1492.1 L423.5,1489.8 L424.2,1487.4 L424.8,1485.1 L425.5,1482.7 L426.1,1480.4 L426.7,1478.0 L427.4,1475.7 L428.0,1473.3 L428.6,1470.9 L429.2,1468.6 L429.8,1466.2 L430.4,1463.8 L431.0,1461.5 L431.6,1459.1 L432.1,1456.7 L432.7,1454.3 L433.3,1452.0 L433.8,1449.6 L434.4,1447.2 L435.0,1444.8 L435.5,1442.4 L436.1,1440.0 L436.6,1437.7 L437.1,1435.3 L437.7,1432.9 L438.2,1430.5 L438.7,1428.1 L439.3,1425.7 L439.8,1423.3 L440.3,1420.9 L440.8,1418.5 L441.4,1416.1 L441.9,1413.7 L442.4,1411.3 L442.9,1408.9 L443.4,1406.5 L443.9,1404.1 L444.4,1401.7 L444.9,1399.4 L445.5,1397.0 L446.0,1394.6 L446.5,1392.2 L447.0,1389.8 L447.5,1387.4 L448.0,1385.0 L448.5,1382.6 L449.0,1380.2 L449.5,1377.8 L450.0,1375.4 L450.5,1373.0 L451.0,1370.6 L451.6,1368.2 L452.1,1365.8 L452.6,1363.5 L453.1,1361.1 L453.6,1358.7 L454.1,1356.3 L454.6,1353.9 L455.2,1351.5 L455.7,1349.1 L456.2,1346.8 L456.7,1344.4 L457.2,1342.0 L457.7,1339.6 L458.3,1337.2 L458.8,1334.9 L459.3,1332.5 L459.8,1330.1 L460.3,1327.7 L460.8,1325.3 L461.4,1323.0 L461.9,1320.6 L462.4,1318.2 L462.9,1315.8 L463.4,1313.5 L464.0,1311.1 L464.5,1308.7 L465.0,1306.3 L465.5,1304.0 L466.0,1301.6 L466.5,1299.2 L467.1,1296.9 L467.6,1294.5 L468.1,1292.1 L468.6,1289.7 L469.1,1287.4 L469.6,1285.0 L470.2,1282.6 L470.7,1280.3 L471.2,1277.9 L471.7,1275.5 L472.2,1273.2 L472.7,1270.8 L473.2,1268.4 L473.8,1266.1 L474.3,1263.7 L474.8,1261.3 L475.3,1259.0 L475.8,1256.6 L476.3,1254.2 L476.8,1251.9 L477.3,1249.5 L477.8,1247.1 L478.3,1244.8 L478.8,1242.4 L479.3,1240.0 L479.8,1237.7 L480.3,1235.3 L480.8,1232.9 L481.3,1230.6 L481.8,1228.2 L482.3,1225.8 L482.8,1223.5 L483.3,1221.1 L483.8,1218.7 L484.3,1216.4 L484.8,1214.0 L485.2,1211.7 L485.7,1209.3 L486.2,1206.9 L486.7,1204.6 L487.2,1202.2 L487.7,1199.8 L488.2,1197.5 L488.7,1195.1 L489.2,1192.8 L489.7,1190.4 L490.2,1188.0 L490.7,1185.7 L491.2,1183.3 L491.8,1180.9 L492.3,1178.6 L492.8,1176.2 L493.3,1173.9 L493.9,1171.5 L494.4,1169.2 L495.0,1166.8 L495.5,1164.4 L496.1,1162.1 L496.7,1159.7 L497.3,1157.4 L497.8,1155.0 L498.4,1152.7 L499.0,1150.3 L499.7,1148.0 L500.3,1145.6 L500.9,1143.3 L501.5,1140.9 L502.2,1138.6 L502.9,1136.2 L503.5,1133.9 L504.2,1131.5 L504.9,1129.2 L505.6,1126.8 L506.3,1124.5 L507.1,1122.1 L507.8,1119.8 L508.6,1117.5 L509.3,1115.1 L510.1,1112.8 L510.9,1110.4 L511.7,1108.1 L512.5,1105.8 L513.4,1103.4 L514.2,1101.1 L515.1,1098.8 L516.0,1096.4 L516.9,1094.1 L517.8,1091.8 L518.7,1089.4 L519.7,1087.1 L520.7,1084.8 L521.7,1082.5 L522.7,1080.2 L523.7,1077.9 L524.7,1075.6 L525.8,1073.3 L526.9,1071.0 L528.0,1068.8 L529.2,1066.6 L530.3,1064.4 L531.5,1062.2 L532.7,1060.0 L534.0,1057.9 L535.3,1055.8 L536.6,1053.7 L537.9,1051.7 L539.2,1049.7 L540.6,1047.7 L542.1,1045.8 L543.5,1043.9 L545.0,1042.0 L546.5,1040.2 L548.1,1038.4 L549.6,1036.7 L551.3,1035.0 L552.9,1033.4 L554.6,1031.8 L556.4,1030.3 L558.1,1028.8 L559.9,1027.4 L561.8,1026.1 L563.7,1024.8 L565.6,1023.6 L567.6,1022.4 L569.6,1021.3 L571.7,1020.3 L573.8,1019.4 L575.9,1018.5 L578.1,1017.7 L580.4,1017.0 L582.6,1016.3 L585.0,1015.7 L587.3,1015.2 L589.7,1014.7 L592.1,1014.3 L594.5,1013.9 L597.0,1013.6 L599.5,1013.3 L602.0,1013.2 L604.5,1013.2 L607.0,1013.2 L609.6,1013.2 L612.1,1013.2 L614.6,1013.2 L617.2,1013.2 L619.7,1013.2 L622.2,1013.2 L624.8,1013.2 L627.3,1013.2 L629.8,1013.2 L632.3,1013.2 L634.7,1013.2 L637.2,1013.2 L639.6,1013.2 L642.1,1013.2 L644.5,1013.2 L646.9,1013.2 L649.3,1013.2 L651.7,1013.3 L654.1,1013.3 L656.4,1013.4 L658.8,1013.5 L661.2,1013.6 L663.6,1013.6 L665.9,1013.6 L668.3,1013.6 L670.7,1013.6 L673.1,1013.6 L675.5,1013.6 L677.9,1013.6 L680.3,1013.6 L682.7,1013.6 L685.1,1013.6 L687.6,1013.6 L690.0,1013.6 L692.5,1013.5 L695.0,1013.4 L697.5,1013.3 L700.0,1013.2" fill="none" stroke="#0a0a0a" stroke-width="2.8" stroke-linejoin="round" stroke-linecap="round"/>
<path d="M189.5,1677.9 L192.5,1677.9 L195.6,1677.8 L198.6,1677.6 L201.7,1677.5 L204.8,1677.4 L207.9,1677.3 L211.0,1677.2 L214.1,1677.2 L217.2,1677.1 L220.3,1677.1 L223.4,1677.1 L226.6,1677.0 L229.7,1677.0 L232.9,1677.0 L236.1,1677.0 L239.3,1677.0 L242.4,1677.0 L245.6,1677.0 L248.8,1677.0 L252.0,1677.0 L255.2,1677.0 L258.4,1677.0 L261.6,1677.0 L264.8,1676.9 L268.1,1676.9 L271.3,1676.9 L274.5,1676.8 L277.7,1676.8 L280.9,1676.7 L284.2,1676.6 L287.4,1676.6 L290.6,1676.5 L293.8,1676.3 L297.0,1676.2 L300.2,1676.0 L303.4,1675.9 L306.7,1675.7 L309.9,1675.4 L313.1,1675.2 L316.2,1674.9 L319.4,1674.6 L322.6,1674.3 L325.8,1674.0 L329.0,1673.6 L332.1,1673.2 L335.3,1672.8 L338.4,1672.3 L341.6,1671.8 L344.7,1671.3 L347.8,1670.7 L350.9,1670.1 L354.0,1669.5 L357.1,1668.8 L360.2,1668.1 L363.2,1667.3 L366.3,1666.5 L369.3,1665.7 L372.4,1664.8 L375.4,1663.8 L378.4,1662.8 L381.3,1661.8 L384.3,1660.8 L387.3,1659.6 L390.2,1658.5 L393.1,1657.3 L396.0,1656.0 L398.9,1654.7 L401.7,1653.4 L404.6,1652.0 L407.4,1650.6 L410.2,1649.2 L412.9,1647.7 L415.7,1646.1 L418.4,1644.6 L421.1,1642.9 L423.8,1641.3 L426.4,1639.6 L429.1,1637.8 L431.7,1636.1 L434.2,1634.2 L436.8,1632.4 L439.3,1630.5 L441.8,1628.6 L444.2,1626.6 L446.6,1624.6 L449.0,1622.6 L451.4,1620.5 L453.7,1618.4 L456.0,1616.2 L458.3,1614.0 L460.5,1611.8 L462.7,1609.6 L464.8,1607.3 L466.9,1605.0 L469.0,1602.6 L471.1,1600.2 L473.1,1597.8 L475.0,1595.4 L477.0,1592.9 L478.9,1590.4 L480.7,1587.8 L482.5,1585.3 L484.3,1582.7 L486.1,1580.1 L487.8,1577.4 L489.5,1574.7 L491.2,1572.0 L492.8,1569.3 L494.4,1566.6 L496.0,1563.8 L497.5,1561.1 L499.1,1558.3 L500.6,1555.5 L502.0,1552.6 L503.5,1549.8 L504.9,1546.9 L506.3,1544.0 L507.7,1541.2 L509.1,1538.3 L510.4,1535.4 L511.7,1532.4 L513.1,1529.5 L514.3,1526.6 L515.6,1523.6 L516.9,1520.7 L518.1,1517.7 L519.4,1514.8 L520.6,1511.8 L521.8,1508.9 L523.0,1505.9 L524.2,1502.9 L525.3,1499.9 L526.5,1497.0 L527.6,1494.0 L528.8,1491.0 L529.9,1488.1 L531.0,1485.1 L532.1,1482.1 L533.2,1479.1 L534.3,1476.1 L535.4,1473.1 L536.4,1470.1 L537.5,1467.1 L538.5,1464.2 L539.6,1461.2 L540.6,1458.2 L541.6,1455.2 L542.6,1452.2 L543.6,1449.2 L544.6,1446.1 L545.6,1443.1 L546.5,1440.1 L547.5,1437.1 L548.4,1434.1 L549.4,1431.1 L550.3,1428.1 L551.3,1425.0 L552.2,1422.0 L553.1,1419.0 L554.0,1416.0 L554.9,1412.9 L555.8,1409.9 L556.7,1406.9 L557.5,1403.9 L558.4,1400.8 L559.3,1397.8 L560.1,1394.7 L561.0,1391.7 L561.8,1388.7 L562.6,1385.6 L563.5,1382.6 L564.3,1379.5 L565.1,1376.5 L565.9,1373.4 L566.7,1370.4 L567.5,1367.3 L568.3,1364.3 L569.1,1361.2 L569.9,1358.1 L570.7,1355.1 L571.5,1352.0 L572.3,1348.9 L573.0,1345.9 L573.8,1342.8 L574.5,1339.7 L575.3,1336.7 L576.1,1333.6 L576.8,1330.5 L577.6,1327.4 L578.3,1324.4 L579.0,1321.3 L579.8,1318.2 L580.5,1315.1 L581.3,1312.0 L582.0,1309.0 L582.7,1305.9 L583.5,1302.8 L584.2,1299.7 L584.9,1296.6 L585.7,1293.5 L586.4,1290.5 L587.1,1287.4 L587.9,1284.3 L588.6,1281.2 L589.4,1278.1 L590.1,1275.0 L590.8,1271.9 L591.6,1268.9 L592.3,1265.8 L593.1,1262.7 L593.9,1259.6 L594.6,1256.5 L595.4,1253.4 L596.2,1250.4 L597.0,1247.3 L597.8,1244.2 L598.6,1241.1 L599.4,1238.1 L600.2,1235.0 L601.0,1231.9 L601.8,1228.8 L602.6,1225.8 L603.5,1222.7 L604.3,1219.7 L605.2,1216.6 L606.1,1213.5 L606.9,1210.5 L607.8,1207.4 L608.7,1204.4 L609.6,1201.3 L610.6,1198.3 L611.5,1195.3 L612.4,1192.2 L613.4,1189.2 L614.4,1186.2 L615.3,1183.1 L616.3,1180.1 L617.3,1177.1 L618.4,1174.1 L619.4,1171.1 L620.5,1168.1 L621.6,1165.1 L622.7,1162.2 L623.9,1159.2 L625.1,1156.3 L626.3,1153.3 L627.5,1150.4 L628.8,1147.5 L630.1,1144.6 L631.4,1141.8 L632.8,1138.9 L634.2,1136.1 L635.6,1133.3 L637.1,1130.5 L638.6,1127.8 L640.2,1125.0 L641.8,1122.3 L643.5,1119.6 L645.2,1117.0 L647.0,1114.4 L648.8,1111.8 L650.6,1109.2 L652.5,1106.7 L654.5,1104.1 L656.5,1101.7 L658.5,1099.2 L660.6,1096.8 L662.7,1094.5 L664.8,1092.1 L667.0,1089.8 L669.3,1087.6 L671.6,1085.4 L673.9,1083.2 L676.2,1081.1 L678.6,1079.0 L681.0,1076.9 L683.5,1074.9 L685.9,1073.0 L688.5,1071.1 L691.0,1069.2 L693.6,1067.4 L696.2,1065.7 L698.8,1064.0 L701.5,1062.3 L704.1,1060.7 L706.8,1059.1 L709.6,1057.6 L712.3,1056.2 L715.1,1054.8 L717.9,1053.4 L720.7,1052.1 L723.6,1050.8 L726.5,1049.5 L729.3,1048.3 L732.3,1047.2 L735.2,1046.1 L738.1,1045.0 L741.1,1043.9 L744.1,1042.9 L747.1,1041.9 L750.1,1041.0 L753.1,1040.1 L756.1,1039.2 L759.2,1038.4 L762.3,1037.6 L765.3,1036.8 L768.4,1036.0 L771.5,1035.3 L774.6,1034.6 L777.8,1033.9 L780.9,1033.2 L784.0,1032.6 L787.2,1032.0 L790.3,1031.4 L793.5,1030.9 L796.6,1030.3 L799.8,1029.8 L803.0,1029.3 L806.2,1028.8 L809.3,1028.3 L812.5,1027.8 L815.7,1027.4 L818.9,1027.0 L822.1,1026.5 L825.2,1026.1 L828.4,1025.7 L831.6,1025.3 L834.8,1024.9 L837.9,1024.6 L841.1,1024.2 L844.3,1023.8 L847.4,1023.5 L850.6,1023.1 L853.8,1022.8 L856.9,1022.5 L860.1,1022.1 L863.3,1021.8 L866.4,1021.5 L869.6,1021.2 L872.7,1020.9 L875.9,1020.6 L879.0,1020.3 L882.2,1020.1 L885.3,1019.8 L888.5,1019.5 L891.6,1019.3 L894.7,1019.0 L897.9,1018.8 L901.0,1018.6 L904.2,1018.3 L907.3,1018.1 L910.5,1017.9 L913.6,1017.7 L916.7,1017.5 L919.9,1017.3 L923.0,1017.1 L926.2,1016.9 L929.3,1016.7 L932.5,1016.5 L935.6,1016.4 L938.7,1016.2 L941.9,1016.0 L945.0,1015.9 L948.2,1015.7 L951.3,1015.6 L954.5,1015.4 L957.6,1015.3 L960.8,1015.2 L963.9,1015.0 L967.1,1014.9 L970.2,1014.8 L973.4,1014.7 L976.5,1014.6 L979.7,1014.5 L982.8,1014.4 L986.0,1014.3 L989.2,1014.2 L992.3,1014.1 L995.5,1014.0 L998.7,1013.9 L1001.8,1013.6 L1005.0,1013.6 L1008.2,1013.6 L1011.4,1013.6 L1014.5,1013.5 L1017.7,1013.5 L1020.9,1013.4 L1024.1,1013.3 L1027.3,1013.3 L1030.5,1013.2 L1033.7,1013.2 L1036.9,1013.2 L1040.1,1013.2 L1043.3,1013.2 L1046.5,1013.2 L1049.7,1013.2 L1053.0,1013.2 L1056.2,1013.2 L1059.4,1013.2" fill="none" stroke="#d21e23" stroke-width="2.8" stroke-linejoin="round" stroke-linecap="round"/>
<path d="M189.1,1677.9 L192.0,1677.9 L194.8,1677.8 L197.7,1677.8 L200.5,1677.8 L203.4,1677.8 L206.2,1677.7 L209.0,1677.7 L211.9,1677.7 L214.7,1677.7 L217.5,1677.6 L220.3,1677.6 L223.2,1677.5 L226.0,1677.5 L228.8,1677.5 L231.6,1677.4 L234.4,1677.4 L237.3,1677.3 L240.1,1677.2 L242.9,1677.2 L245.7,1677.1 L248.5,1677.1 L251.3,1677.0 L254.1,1676.9 L256.9,1676.9 L259.7,1676.8 L262.5,1676.7 L265.3,1676.6 L268.1,1676.5 L270.9,1676.4 L273.7,1676.3 L276.5,1676.2 L279.3,1676.1 L282.1,1676.0 L284.9,1675.9 L287.8,1675.8 L290.6,1675.7 L293.4,1675.6 L296.2,1675.4 L299.0,1675.3 L301.8,1675.2 L304.6,1675.0 L307.4,1674.9 L310.2,1674.7 L313.1,1674.6 L315.9,1674.4 L318.7,1674.2 L321.5,1674.1 L324.4,1673.9 L327.2,1673.7 L330.0,1673.5 L332.9,1673.3 L335.7,1673.1 L338.6,1672.9 L341.4,1672.7 L344.3,1672.5 L347.1,1672.3 L350.0,1672.0 L352.8,1671.8 L355.7,1671.5 L358.6,1671.3 L361.4,1671.0 L364.3,1670.8 L367.2,1670.5 L370.1,1670.2 L372.9,1669.9 L375.8,1669.6 L378.7,1669.2 L381.6,1668.9 L384.4,1668.5 L387.3,1668.2 L390.2,1667.8 L393.0,1667.4 L395.9,1667.0 L398.7,1666.5 L401.6,1666.1 L404.4,1665.6 L407.3,1665.1 L410.1,1664.6 L412.9,1664.1 L415.7,1663.5 L418.5,1663.0 L421.3,1662.4 L424.1,1661.7 L426.9,1661.1 L429.7,1660.4 L432.4,1659.7 L435.2,1659.0 L437.9,1658.3 L440.6,1657.5 L443.3,1656.7 L446.0,1655.9 L448.7,1655.0 L451.4,1654.1 L454.0,1653.2 L456.7,1652.2 L459.3,1651.3 L461.9,1650.2 L464.5,1649.2 L467.1,1648.1 L469.6,1647.0 L472.2,1645.8 L474.7,1644.6 L477.2,1643.4 L479.7,1642.1 L482.1,1640.8 L484.5,1639.5 L487.0,1638.1 L489.4,1636.7 L491.7,1635.3 L494.1,1633.8 L496.4,1632.2 L498.7,1630.7 L501.0,1629.1 L503.3,1627.5 L505.5,1625.8 L507.7,1624.1 L509.9,1622.4 L512.1,1620.7 L514.2,1618.9 L516.4,1617.1 L518.5,1615.2 L520.5,1613.3 L522.6,1611.4 L524.6,1609.5 L526.6,1607.5 L528.6,1605.6 L530.6,1603.5 L532.5,1601.5 L534.4,1599.4 L536.3,1597.3 L538.1,1595.2 L540.0,1593.1 L541.8,1590.9 L543.6,1588.7 L545.3,1586.5 L547.0,1584.3 L548.7,1582.0 L550.4,1579.8 L552.0,1577.5 L553.7,1575.1 L555.2,1572.8 L556.8,1570.4 L558.3,1568.1 L559.8,1565.7 L561.3,1563.3 L562.8,1560.8 L564.2,1558.4 L565.6,1555.9 L566.9,1553.4 L568.3,1551.0 L569.6,1548.4 L570.9,1545.9 L572.1,1543.4 L573.4,1540.8 L574.6,1538.3 L575.8,1535.7 L577.0,1533.1 L578.1,1530.5 L579.2,1527.9 L580.3,1525.3 L581.4,1522.6 L582.5,1520.0 L583.5,1517.3 L584.5,1514.7 L585.5,1512.0 L586.5,1509.3 L587.5,1506.6 L588.5,1503.9 L589.4,1501.2 L590.3,1498.5 L591.2,1495.8 L592.1,1493.1 L593.0,1490.3 L593.9,1487.6 L594.7,1484.9 L595.6,1482.1 L596.4,1479.4 L597.2,1476.6 L598.0,1473.9 L598.8,1471.1 L599.6,1468.4 L600.4,1465.6 L601.2,1462.9 L602.0,1460.1 L602.7,1457.3 L603.5,1454.6 L604.2,1451.8 L605.0,1449.1 L605.7,1446.3 L606.5,1443.6 L607.2,1440.8 L607.9,1438.1 L608.7,1435.3 L609.4,1432.6 L610.1,1429.8 L610.8,1427.1 L611.5,1424.3 L612.2,1421.6 L612.9,1418.8 L613.6,1416.1 L614.3,1413.4 L615.0,1410.6 L615.7,1407.9 L616.4,1405.1 L617.0,1402.4 L617.7,1399.7 L618.4,1396.9 L619.0,1394.2 L619.7,1391.4 L620.3,1388.7 L621.0,1386.0 L621.6,1383.2 L622.3,1380.5 L622.9,1377.8 L623.5,1375.0 L624.2,1372.3 L624.8,1369.5 L625.4,1366.8 L626.0,1364.0 L626.7,1361.3 L627.3,1358.6 L627.9,1355.8 L628.5,1353.1 L629.1,1350.3 L629.7,1347.6 L630.3,1344.8 L630.9,1342.1 L631.4,1339.3 L632.0,1336.6 L632.6,1333.8 L633.2,1331.1 L633.7,1328.3 L634.3,1325.6 L634.9,1322.8 L635.4,1320.0 L636.0,1317.3 L636.5,1314.5 L637.1,1311.7 L637.6,1309.0 L638.2,1306.2 L638.7,1303.4 L639.2,1300.6 L639.8,1297.9 L640.3,1295.1 L640.8,1292.3 L641.3,1289.5 L641.8,1286.7 L642.4,1283.9 L642.9,1281.1 L643.4,1278.3 L643.9,1275.5 L644.4,1272.7 L644.9,1269.9 L645.4,1267.1 L645.9,1264.3 L646.4,1261.5 L646.8,1258.7 L647.3,1255.8 L647.8,1253.0 L648.3,1250.2 L648.8,1247.4 L649.3,1244.6 L649.9,1241.8 L650.4,1239.0 L650.9,1236.1 L651.4,1233.3 L652.0,1230.5 L652.5,1227.7 L653.1,1224.9 L653.6,1222.1 L654.2,1219.3 L654.8,1216.5 L655.4,1213.7 L656.0,1210.9 L656.6,1208.1 L657.2,1205.4 L657.9,1202.6 L658.5,1199.8 L659.2,1197.1 L659.9,1194.3 L660.6,1191.6 L661.3,1188.8 L662.1,1186.1 L662.9,1183.3 L663.6,1180.6 L664.4,1177.9 L665.3,1175.2 L666.1,1172.5 L667.0,1169.8 L667.9,1167.2 L668.8,1164.5 L669.8,1161.8 L670.7,1159.2 L671.7,1156.6 L672.7,1153.9 L673.8,1151.3 L674.9,1148.7 L676.0,1146.1 L677.1,1143.6 L678.3,1141.0 L679.5,1138.4 L680.7,1135.9 L682.0,1133.4 L683.3,1130.9 L684.6,1128.4 L685.9,1125.9 L687.3,1123.5 L688.7,1121.0 L690.1,1118.6 L691.6,1116.2 L693.1,1113.8 L694.6,1111.4 L696.1,1109.1 L697.7,1106.7 L699.3,1104.4 L700.9,1102.1 L702.6,1099.8 L704.3,1097.6 L706.0,1095.3 L707.7,1093.1 L709.5,1090.9 L711.3,1088.8 L713.1,1086.6 L714.9,1084.5 L716.8,1082.4 L718.7,1080.3 L720.6,1078.3 L722.6,1076.2 L724.5,1074.2 L726.5,1072.3 L728.6,1070.3 L730.6,1068.4 L732.7,1066.5 L734.8,1064.6 L736.9,1062.8 L739.1,1061.0 L741.2,1059.2 L743.4,1057.4 L745.7,1055.7 L747.9,1054.0 L750.2,1052.3 L752.5,1050.7 L754.8,1049.1 L757.1,1047.5 L759.5,1046.0 L761.9,1044.5 L764.3,1043.0 L766.8,1041.6 L769.2,1040.2 L771.7,1038.8 L774.2,1037.5 L776.7,1036.2 L779.3,1034.9 L781.8,1033.7 L784.4,1032.5 L787.0,1031.3 L789.6,1030.2 L792.2,1029.0 L794.9,1028.0 L797.5,1026.9 L800.2,1025.9 L802.9,1025.0 L805.6,1024.0 L808.3,1023.1 L811.0,1022.3 L813.8,1021.4 L816.5,1020.6 L819.3,1019.9 L822.0,1019.2 L824.8,1018.5 L827.6,1017.8 L830.4,1017.2 L833.2,1016.6 L836.0,1016.0 L838.8,1015.5 L841.6,1015.0 L844.4,1014.6 L847.3,1014.2 L850.1,1013.8 L852.9,1013.5 L855.8,1013.2 L858.6,1013.2 L861.5,1013.2 L864.3,1013.2 L867.1,1013.2 L870.0,1013.2 L872.8,1013.2 L875.7,1013.2 L878.5,1013.2 L881.3,1013.2 L884.2,1013.2 L887.0,1013.2 L889.8,1013.2 L892.6,1013.2 L895.4,1013.2 L898.2,1013.2 L901.0,1013.2 L903.8,1013.4 L906.6,1013.6" fill="none" stroke="#1a16be" stroke-width="2.8" stroke-linejoin="round" stroke-linecap="round"/>
<path d="M409.4,1676.7 L411.9,1676.7 L414.3,1676.8 L416.8,1676.8 L419.3,1676.9 L421.9,1676.9 L424.4,1677.0 L427.0,1677.0 L429.5,1677.0 L432.1,1677.1 L434.7,1677.1 L437.3,1677.1 L439.9,1677.1 L442.5,1677.0 L445.1,1677.0 L447.7,1676.9 L450.3,1676.9 L453.0,1676.8 L455.6,1676.7 L458.2,1676.6 L460.9,1676.5 L463.5,1676.3 L466.2,1676.2 L468.8,1676.0 L471.4,1675.8 L474.1,1675.5 L476.7,1675.3 L479.4,1675.0 L482.0,1674.7 L484.6,1674.4 L487.2,1674.0 L489.8,1673.6 L492.4,1673.2 L495.0,1672.7 L497.6,1672.3 L500.2,1671.8 L502.8,1671.2 L505.3,1670.6 L507.9,1670.0 L510.4,1669.4 L512.9,1668.7 L515.4,1668.0 L517.9,1667.2 L520.4,1666.4 L522.8,1665.6 L525.3,1664.7 L527.7,1663.8 L530.1,1662.8 L532.5,1661.8 L534.8,1660.8 L537.2,1659.7 L539.5,1658.6 L541.8,1657.5 L544.0,1656.3 L546.3,1655.0 L548.5,1653.8 L550.8,1652.5 L552.9,1651.1 L555.1,1649.8 L557.3,1648.4 L559.4,1646.9 L561.5,1645.5 L563.5,1644.0 L565.6,1642.5 L567.6,1640.9 L569.6,1639.3 L571.6,1637.7 L573.5,1636.0 L575.5,1634.3 L577.3,1632.6 L579.2,1630.9 L581.0,1629.1 L582.9,1627.3 L584.6,1625.5 L586.4,1623.7 L588.1,1621.8 L589.8,1619.9 L591.5,1618.0 L593.1,1616.1 L594.7,1614.1 L596.3,1612.1 L597.8,1610.1 L599.3,1608.1 L600.8,1606.0 L602.2,1603.9 L603.7,1601.8 L605.1,1599.7 L606.4,1597.6 L607.8,1595.4 L609.1,1593.3 L610.4,1591.1 L611.6,1588.9 L612.9,1586.6 L614.1,1584.4 L615.3,1582.1 L616.4,1579.8 L617.6,1577.5 L618.7,1575.2 L619.8,1572.9 L620.9,1570.6 L621.9,1568.2 L622.9,1565.8 L624.0,1563.5 L624.9,1561.1 L625.9,1558.6 L626.9,1556.2 L627.8,1553.8 L628.7,1551.3 L629.6,1548.9 L630.5,1546.4 L631.3,1543.9 L632.1,1541.5 L633.0,1539.0 L633.8,1536.5 L634.6,1533.9 L635.3,1531.4 L636.1,1528.9 L636.8,1526.4 L637.6,1523.8 L638.3,1521.3 L639.0,1518.7 L639.7,1516.1 L640.3,1513.6 L641.0,1511.0 L641.7,1508.4 L642.3,1505.8 L642.9,1503.3 L643.5,1500.7 L644.2,1498.1 L644.8,1495.5 L645.3,1492.9 L645.9,1490.3 L646.5,1487.7 L647.1,1485.1 L647.6,1482.5 L648.2,1479.9 L648.7,1477.3 L649.3,1474.7 L649.8,1472.1 L650.3,1469.5 L650.9,1466.9 L651.4,1464.3 L651.9,1461.8 L652.4,1459.2 L652.9,1456.6 L653.4,1454.0 L653.9,1451.5 L654.4,1448.9 L654.9,1446.3 L655.4,1443.8 L655.9,1441.2 L656.4,1438.7 L656.9,1436.1 L657.4,1433.6 L657.9,1431.0 L658.3,1428.5 L658.8,1425.9 L659.3,1423.4 L659.8,1420.9 L660.3,1418.3 L660.7,1415.8 L661.2,1413.3 L661.7,1410.7 L662.1,1408.2 L662.6,1405.7 L663.1,1403.2 L663.5,1400.6 L664.0,1398.1 L664.5,1395.6 L664.9,1393.1 L665.4,1390.6 L665.8,1388.1 L666.3,1385.5 L666.7,1383.0 L667.2,1380.5 L667.7,1378.0 L668.1,1375.5 L668.6,1373.0 L669.0,1370.5 L669.5,1367.9 L669.9,1365.4 L670.4,1362.9 L670.9,1360.4 L671.3,1357.9 L671.8,1355.4 L672.2,1352.9 L672.7,1350.3 L673.1,1347.8 L673.6,1345.3 L674.1,1342.8 L674.5,1340.3 L675.0,1337.7 L675.4,1335.2 L675.9,1332.7 L676.4,1330.2 L676.8,1327.6 L677.3,1325.1 L677.8,1322.6 L678.2,1320.0 L678.7,1317.5 L679.2,1314.9 L679.7,1312.4 L680.2,1309.9 L680.6,1307.3 L681.1,1304.8 L681.6,1302.2 L682.1,1299.7 L682.6,1297.1 L683.1,1294.6 L683.7,1292.0 L684.2,1289.5 L684.7,1287.0 L685.3,1284.4 L685.8,1281.9 L686.4,1279.4 L687.0,1276.8 L687.6,1274.3 L688.2,1271.8 L688.8,1269.2 L689.4,1266.7 L690.1,1264.2 L690.7,1261.7 L691.4,1259.2 L692.1,1256.7 L692.8,1254.2 L693.5,1251.7 L694.2,1249.2 L694.9,1246.7 L695.7,1244.2 L696.5,1241.8 L697.3,1239.3 L698.1,1236.9 L698.9,1234.4 L699.8,1232.0 L700.7,1229.5 L701.6,1227.1 L702.5,1224.7 L703.5,1222.3 L704.4,1219.9 L705.4,1217.5 L706.4,1215.1 L707.4,1212.7 L708.5,1210.4 L709.5,1208.0 L710.6,1205.6 L711.7,1203.3 L712.8,1201.0 L714.0,1198.6 L715.1,1196.3 L716.3,1194.0 L717.5,1191.7 L718.7,1189.4 L720.0,1187.1 L721.2,1184.9 L722.5,1182.6 L723.8,1180.4 L725.1,1178.1 L726.4,1175.9 L727.7,1173.6 L729.1,1171.4 L730.4,1169.2 L731.8,1167.0 L733.2,1164.8 L734.6,1162.7 L736.1,1160.5 L737.5,1158.3 L739.0,1156.2 L740.5,1154.0 L741.9,1151.9 L743.4,1149.8 L745.0,1147.7 L746.5,1145.6 L748.0,1143.5 L749.6,1141.4 L751.2,1139.4 L752.8,1137.3 L754.4,1135.3 L756.0,1133.2 L757.6,1131.2 L759.3,1129.2 L760.9,1127.2 L762.6,1125.2 L764.3,1123.3 L766.0,1121.3 L767.7,1119.4 L769.4,1117.4 L771.2,1115.5 L772.9,1113.6 L774.7,1111.7 L776.5,1109.8 L778.3,1108.0 L780.1,1106.1 L781.9,1104.3 L783.8,1102.5 L785.6,1100.7 L787.5,1098.9 L789.4,1097.2 L791.3,1095.4 L793.2,1093.7 L795.1,1092.0 L797.1,1090.3 L799.0,1088.6 L801.0,1086.9 L802.9,1085.3 L804.9,1083.7 L806.9,1082.1 L809.0,1080.5 L811.0,1078.9 L813.0,1077.3 L815.1,1075.8 L817.2,1074.3 L819.3,1072.8 L821.4,1071.3 L823.5,1069.9 L825.6,1068.4 L827.7,1067.0 L829.9,1065.6 L832.1,1064.3 L834.2,1062.9 L836.4,1061.6 L838.6,1060.3 L840.9,1059.0 L843.1,1057.7 L845.3,1056.5 L847.6,1055.3 L849.9,1054.1 L852.2,1052.9 L854.5,1051.8 L856.8,1050.6 L859.1,1049.5 L861.4,1048.4 L863.8,1047.4 L866.1,1046.3 L868.5,1045.3 L870.9,1044.3 L873.3,1043.4 L875.7,1042.4 L878.1,1041.5 L880.5,1040.6 L883.0,1039.7 L885.4,1038.8 L887.9,1037.9 L890.3,1037.1 L892.8,1036.3 L895.3,1035.5 L897.7,1034.7 L900.2,1033.9 L902.7,1033.2 L905.2,1032.5 L907.7,1031.7 L910.3,1031.1 L912.8,1030.4 L915.3,1029.7 L917.9,1029.1 L920.4,1028.4 L922.9,1027.8 L925.5,1027.2 L928.1,1026.7 L930.6,1026.1 L933.2,1025.5 L935.7,1025.0 L938.3,1024.5 L940.9,1024.0 L943.5,1023.5 L946.0,1023.0 L948.6,1022.5 L951.2,1022.1 L953.8,1021.6 L956.4,1021.2 L959.0,1020.8 L961.5,1020.4 L964.1,1020.0 L966.7,1019.6 L969.3,1019.2 L971.9,1018.8 L974.5,1018.5 L977.1,1018.1 L979.7,1017.8 L982.2,1017.5 L984.8,1017.2 L987.4,1016.9 L990.0,1016.6 L992.6,1016.3 L995.1,1016.0 L997.7,1015.8 L1000.3,1013.6 L1002.8,1013.6 L1005.4,1013.6 L1007.9,1013.6 L1010.5,1013.6 L1013.0,1013.6 L1015.6,1013.6 L1018.1,1013.6 L1020.6,1013.6 L1023.1,1013.5 L1025.7,1013.3 L1028.2,1013.2 L1030.7,1013.2 L1033.2,1013.2 L1035.6,1013.2" fill="none" stroke="#34e234" stroke-width="2.8" stroke-linejoin="round" stroke-linecap="round"/>
<rect x="796.9" y="1466.1" width="246.4" height="184.7" fill="#fff" stroke="#8c8c8c" stroke-width="1.3"/>
<line x1="803.60" y1="1492.40" x2="882.60" y2="1492.40" stroke="#0a0a0a" stroke-width="3.4" stroke-linecap="butt"/>
<text transform="translate(890.85,1503.30) scale(1,1.04)" font-size="33.8" text-anchor="start" style="font-family:'Liberation Sans',sans-serif" font-weight="normal" fill="#000">5</text>
<text transform="translate(928.42,1485.00) scale(1,0.95)" font-size="18.5" text-anchor="start" style="font-family:'Liberation Sans',sans-serif" font-weight="normal" fill="#000">o</text>
<text transform="translate(939.36,1503.30) scale(1,1.04)" font-size="34.3" text-anchor="start" style="font-family:'Liberation Sans',sans-serif" font-weight="normal" fill="#000">C/min</text>
<line x1="803.60" y1="1538.60" x2="882.60" y2="1538.60" stroke="#d21e23" stroke-width="3.4" stroke-linecap="butt"/>
<g transform="translate(890.42,1550.60) scale(1,1.04)"><path transform="translate(0.00,0) scale(0.01650,-0.01587)" d="M763,0 L583,0 L583,1147 C518,1085 312,964 223,931 L223,1105 C375,1176 599,1374 640,1466 L763,1466 Z" fill="#000"/><text x="18.80" y="0" font-size="33.8" style="font-family:'Liberation Sans',sans-serif" fill="#000">0</text></g>
<text transform="translate(938.62,1532.30) scale(1,0.95)" font-size="18.5" text-anchor="start" style="font-family:'Liberation Sans',sans-serif" font-weight="normal" fill="#000">o</text>
<text transform="translate(949.56,1550.60) scale(1,1.04)" font-size="34.3" text-anchor="start" style="font-family:'Liberation Sans',sans-serif" font-weight="normal" fill="#000">C/min</text>
<line x1="803.60" y1="1585.20" x2="882.60" y2="1585.20" stroke="#1a16be" stroke-width="3.4" stroke-linecap="butt"/>
<g transform="translate(890.42,1597.20) scale(1,1.04)"><path transform="translate(0.00,0) scale(0.01650,-0.01587)" d="M763,0 L583,0 L583,1147 C518,1085 312,964 223,931 L223,1105 C375,1176 599,1374 640,1466 L763,1466 Z" fill="#000"/><text x="18.80" y="0" font-size="33.8" style="font-family:'Liberation Sans',sans-serif" fill="#000">5</text></g>
<text transform="translate(938.62,1578.90) scale(1,0.95)" font-size="18.5" text-anchor="start" style="font-family:'Liberation Sans',sans-serif" font-weight="normal" fill="#000">o</text>
<text transform="translate(949.56,1597.20) scale(1,1.04)" font-size="34.3" text-anchor="start" style="font-family:'Liberation Sans',sans-serif" font-weight="normal" fill="#000">C/min</text>
<line x1="803.60" y1="1631.70" x2="882.60" y2="1631.70" stroke="#34e234" stroke-width="3.4" stroke-linecap="butt"/>
<text transform="translate(892.40,1643.70) scale(1,1.04)" font-size="33.8" text-anchor="start" style="font-family:'Liberation Sans',sans-serif" font-weight="normal" fill="#000">20</text>
<text transform="translate(938.62,1625.40) scale(1,0.95)" font-size="18.5" text-anchor="start" style="font-family:'Liberation Sans',sans-serif" font-weight="normal" fill="#000">o</text>
<text transform="translate(949.56,1643.70) scale(1,1.04)" font-size="34.3" text-anchor="start" style="font-family:'Liberation Sans',sans-serif" font-weight="normal" fill="#000">C/min</text>
<text transform="translate(569.60,1891.60) scale(1,1.085)" font-size="34.5" text-anchor="middle" style="font-family:'Liberation Serif',serif" font-weight="normal" fill="#000">(<tspan font-weight="bold">b</tspan>)</text>
</svg>
</body></html>
